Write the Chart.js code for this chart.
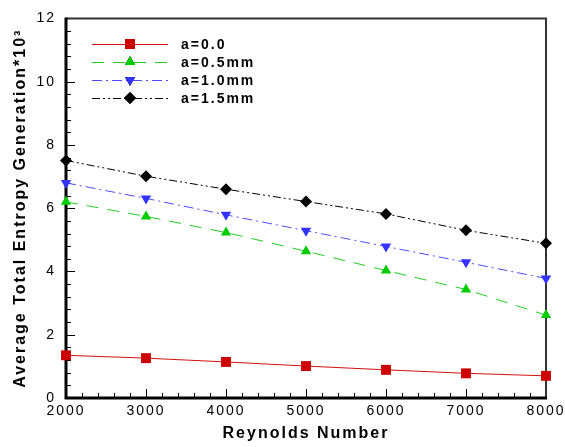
<!DOCTYPE html>
<html>
<head>
<meta charset="utf-8">
<script src="https://cdn.jsdelivr.net/npm/chart.js@4.4.1/dist/chart.umd.min.js"></script>
<style>
  html, body { margin: 0; padding: 0; background: #fff; }
  #wrap { width: 565px; height: 447px; position: relative; }
</style>
</head>
<body>
<div id="wrap"><canvas id="chart"></canvas></div>
<script>
// data
const reynolds = [2000, 3000, 4000, 5000, 6000, 7000, 8000];
const a00 = [1.35, 1.26, 1.14, 1.01, 0.89, 0.78, 0.70];
const a05 = [6.20, 5.74, 5.23, 4.64, 4.03, 3.43, 2.62];
const a10 = [6.80, 6.31, 5.79, 5.29, 4.79, 4.29, 3.78];
const a15 = [7.51, 7.01, 6.60, 6.21, 5.82, 5.30, 4.89];
const seriesLabels = ['a=0.0', 'a=0.5mm', 'a=1.0mm', 'a=1.5mm'];

const FONT = '"Liberation Sans", Arial, sans-serif';

function pts(ys) {
    return reynolds.map((x, i) => ({ x: x, y: ys[i] }));
}

// frame, inward ticks and legend
const framePlugin = {
    id: 'frame',
    beforeDraw(chart) {
        chart.ctx.letterSpacing = '2px';
    },
    beforeDatasetsDraw(chart) {
        const ctx = chart.ctx;
        const { left, right, top, bottom } = chart.chartArea;
        const xs = chart.scales.x, ys = chart.scales.y;
        ctx.save();
        ctx.strokeStyle = '#000';
        ctx.lineWidth = 1;
        ctx.beginPath();
        for (let v = 2000; v <= 8000; v += 200) {
            const px = Math.round(xs.getPixelForValue(v)) + 0.5;
            const len = (v % 1000 === 0) ? 9 : 5;
            ctx.moveTo(px, bottom);
            ctx.lineTo(px, bottom - len);
        }
        for (let i = 0; i <= 30; i++) {
            const v = i * 0.4;
            const py = Math.round(ys.getPixelForValue(v)) + 0.5;
            const len = (i % 5 === 0) ? 9 : 5;
            ctx.moveTo(left, py);
            ctx.lineTo(left + len, py);
        }
        ctx.stroke();
        ctx.lineWidth = 2;
        ctx.strokeStyle = '#333';
        ctx.beginPath();
        ctx.moveTo(left, top);
        ctx.lineTo(right, top);
        ctx.lineTo(right, bottom);
        ctx.stroke();
        ctx.lineWidth = 3;
        ctx.strokeStyle = '#000';
        ctx.beginPath();
        ctx.moveTo(left, top - 1);
        ctx.lineTo(left, bottom);
        ctx.lineTo(right + 1, bottom);
        ctx.stroke();
        ctx.restore();
    },
    afterDatasetsDraw(chart) {
        const ctx = chart.ctx;
        ctx.save();
        ctx.letterSpacing = '2px';
        chart.data.datasets.forEach((ds, i) => {
            const y = 44 + i * 18;
            ctx.strokeStyle = ds.borderColor;
            ctx.lineWidth = 1;
            ctx.setLineDash(ds.borderDash || []);
            ctx.beginPath();
            ctx.moveTo(92, y + 0.5);
            ctx.lineTo(168, y + 0.5);
            ctx.stroke();
            ctx.setLineDash([]);
            Chart.helpers.drawPoint(ctx, {
                pointStyle: ds.pointStyle,
                rotation: ds.pointRotation || 0,
                radius: ds.pointRadius,
                borderWidth: 0
            }, 130, y);
            ctx.fillStyle = ds.pointBackgroundColor;
            ctx.fill();
            ctx.fillStyle = '#000';
            ctx.font = 'bold 14px ' + FONT;
            ctx.textBaseline = 'middle';
            ctx.textAlign = 'left';
            ctx.fillText(ds.label, 181, y + 1);
        });
        ctx.restore();
    }
};

new Chart(document.getElementById('chart'), {
    type: 'line',
    data: {
        datasets: [
            {
                label: seriesLabels[0], data: pts(a00),
                borderColor: '#d01010', borderWidth: 1,
                pointStyle: 'rect', pointRadius: 7,
                pointBackgroundColor: '#cc0000', pointBorderWidth: 0
            },
            {
                label: seriesLabels[1], data: pts(a05),
                borderColor: '#22cc22', borderWidth: 1, borderDash: [12, 9],
                pointStyle: 'triangle', pointRadius: 6,
                pointBackgroundColor: '#00cc00', pointBorderWidth: 0
            },
            {
                label: seriesLabels[2], data: pts(a10),
                borderColor: '#4d4dff', borderWidth: 1, borderDash: [10, 4, 2, 4],
                pointStyle: 'triangle', pointRotation: 180, pointRadius: 6,
                pointBackgroundColor: '#3333ff', pointBorderWidth: 0
            },
            {
                label: seriesLabels[3], data: pts(a15),
                borderColor: '#000000', borderWidth: 1, borderDash: [8, 3, 2, 3, 2, 3],
                pointStyle: 'rectRot', pointRadius: 6,
                pointBackgroundColor: '#000000', pointBorderWidth: 0
            }
        ]
    },
    options: {
        responsive: true,
        maintainAspectRatio: false,
        animation: false,
        clip: false,
        layout: { padding: { top: 15, right: 19, left: 0, bottom: 0 } },
        plugins: {
            legend: { display: false },
            tooltip: { enabled: false }
        },
        scales: {
            x: {
                type: 'linear',
                min: 2000, max: 8000,
                grid: { display: false, drawTicks: false },
                border: { display: false },
                ticks: {
                    stepSize: 1000, padding: 5, color: '#000',
                    font: { family: FONT, size: 14 },
                    callback: v => String(v)
                },
                title: {
                    display: true, text: 'Reynolds Number', color: '#000',
                    font: { family: FONT, size: 16, weight: 'bold' },
                    padding: { top: 0, bottom: 4 }
                },
                afterFit: s => { s.height = 49; s.paddingRight = 0; s.paddingLeft = 0; }
            },
            y: {
                min: 0, max: 12,
                grid: { display: false, drawTicks: false },
                border: { display: false },
                ticks: {
                    stepSize: 2, padding: 10, color: '#000',
                    font: { family: FONT, size: 14 }
                },
                title: {
                    display: true, text: 'Average Total Entropy Generation*10³', color: '#000',
                    font: { family: FONT, size: 16, weight: 'bold' },
                    padding: { top: 11, bottom: 0 }
                },
                afterFit: s => { s.width = 66; }
            }
        }
    },
    plugins: [framePlugin]
});
</script>
</body>
</html>
